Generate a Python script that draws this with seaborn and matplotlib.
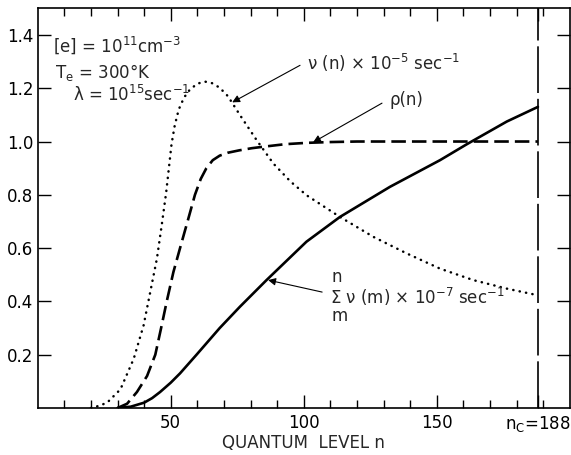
import matplotlib
matplotlib.use("Agg")
import matplotlib.pyplot as plt
import seaborn as sns

# valeurs
n_nu = [20, 23, 26.1, 31.1, 36.1, 39.8, 42.3, 44.8, 46.6, 48.3, 49.3, 50.3, 51.5,
        53, 55, 57.2, 60, 62.8, 65.5, 68.4, 71.5, 76.1, 82.3, 88.6, 95, 101.1,
        113.6, 126.2, 138.7, 151.2, 163.7, 176.3, 188]
nu = [0.0, 0.008, 0.02, 0.07, 0.185, 0.31, 0.435, 0.56, 0.685, 0.81, 0.9, 0.99, 1.06,
      1.12, 1.165, 1.195, 1.217, 1.225, 1.219, 1.202, 1.17, 1.098, 1.005, 0.917,
      0.85, 0.798, 0.717, 0.642, 0.58, 0.523, 0.48, 0.448, 0.423]

n_rho = [30, 33.6, 37.3, 41.1, 44.2, 46.6, 48.5, 51, 53.5, 56.6, 59.1, 61.3, 63.4,
         65.8, 68.4, 71.5, 75.8, 80.5, 86.1, 93, 101.1, 110, 120, 150, 188]
rho = [0.0, 0.016, 0.06, 0.12, 0.2, 0.31, 0.4, 0.51, 0.6, 0.71, 0.8, 0.86, 0.9,
       0.93, 0.947, 0.958, 0.967, 0.975, 0.982, 0.99, 0.995, 0.998, 1.0, 1.0, 1.0]

n_sum = [30, 35, 40, 43, 46, 50, 53.5, 59.7, 68.4, 76, 86, 101, 113.6, 132.4, 151.2,
         161.3, 176.3, 188]
sum_nu = [0.0, 0.005, 0.02, 0.037, 0.06, 0.095, 0.13, 0.2, 0.3, 0.38, 0.48, 0.624,
          0.717, 0.83, 0.93, 0.99, 1.075, 1.13]

n_c = 188
x_major = [50, 100, 150, n_c]
x_labels = ["50", "100", "150", "n$_\\mathregular{C}$=188"]
x_minor = [10, 20, 30, 40, 60, 70, 80, 90, 110, 120, 130, 140, 160, 170, 180, 190]
y_ticks = [0.2, 0.4, 0.6, 0.8, 1.0, 1.2, 1.4]

sns.set_style("ticks")
plt.rcParams['font.family'] = ['DejaVu Sans']
plt.rcParams['mathtext.default'] = 'regular'

fig = plt.figure(figsize=(5.71, 4.55), dpi=100)
ax = fig.add_axes([0.066, 0.1033, 0.932, 0.8785])

# courbes
sns.lineplot(x=n_nu, y=nu, ax=ax, color="black", lw=1.8,
             linestyle=(0, (0.1, 2.5)), dash_capstyle="round")
sns.lineplot(x=n_rho, y=rho, ax=ax, color="black", lw=1.9,
             linestyle=(0, (5.5, 2.3)))
sns.lineplot(x=n_sum, y=sum_nu, ax=ax, color="black", lw=1.9)
ax.axvline(n_c, color="black", lw=1.2, linestyle=(0, (28, 3.5)))

ax.set_xlim(0, 200)
ax.set_ylim(0, 1.5)

ax.set_xticks(x_major)
ax.set_xticklabels(x_labels)
ax.set_xticks(x_minor, minor=True)
ax.set_yticks(y_ticks)
ax.set_yticklabels([f"{v:.1f}" for v in y_ticks])

ax.tick_params(which="both", direction="in", top=True, right=True,
               labelsize=12, width=1.0, color="black", labelcolor="black")
ax.tick_params(which="major", length=9.5)
ax.tick_params(which="minor", length=6)
ax.tick_params(axis="x", pad=4)
ax.tick_params(axis="y", pad=3)
for s in ax.spines.values():
    s.set_linewidth(1.2)
    s.set_color("black")

ax.set_xlabel("QUANTUM  LEVEL n", fontsize=12, labelpad=0)

# textes
fs = 12
ax.text(5.8, 1.361, "[e] = 10$^{11}$cm$^{-3}$", fontsize=fs, va="center")
ax.text(6.5, 1.26, "T$_e$ = 300°K", fontsize=fs, va="center")
ax.text(13.3, 1.174, "λ = 10$^{15}$sec$^{-1}$", fontsize=fs, va="center")

arrow = dict(arrowstyle="-|>", lw=0.8, color="black", mutation_scale=11,
             shrinkA=0, shrinkB=0)
ax.annotate("", xy=(73.1, 1.147), xytext=(98.6, 1.286), arrowprops=arrow)
ax.text(101.3, 1.294, "ν (n) × 10$^{-5}$ sec$^{-1}$", fontsize=fs, va="center")

ax.annotate("", xy=(103.5, 0.997), xytext=(129.4, 1.144), arrowprops=arrow)
ax.text(132.4, 1.155, "ρ(n)", fontsize=fs, va="center")

ax.annotate("", xy=(86.6, 0.48), xytext=(106.9, 0.435), arrowprops=arrow)
ax.text(110.5, 0.49, "n", fontsize=fs, va="center")
ax.text(110, 0.416, "Σ ν (m) × 10$^{-7}$ sec$^{-1}$", fontsize=fs, va="center")
ax.text(110.5, 0.345, "m", fontsize=fs, va="center")

fig.savefig("out.png", dpi=100)
